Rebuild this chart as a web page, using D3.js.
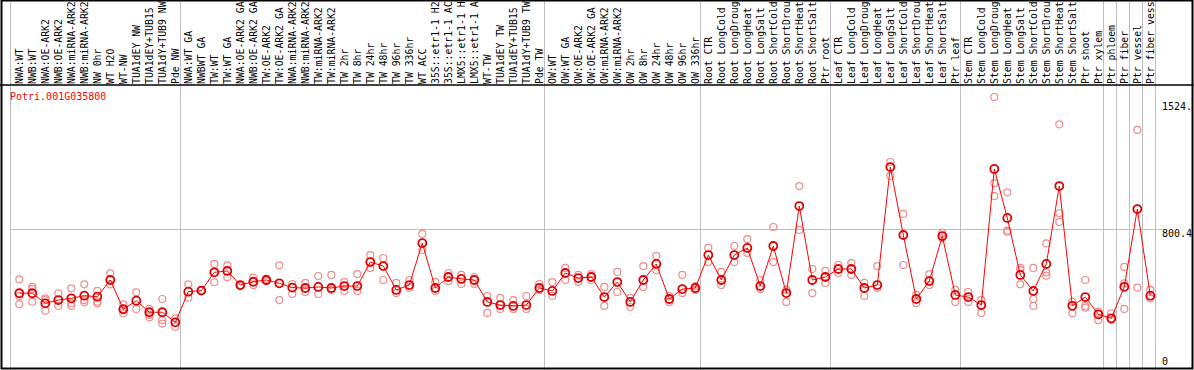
<!DOCTYPE html>
<html>
<head>
<meta charset="utf-8">
<script src="https://cdn.jsdelivr.net/npm/d3@7"></script>
<style>
  body { margin: 0; background: #fff; }
  svg { display: block; }
  text { font-family: "DejaVu Sans Mono", "Liberation Mono", monospace; font-size: 10px; }
  .lbl { font-size: 9.8px; }
</style>
</head>
<body>
<div id="chart"></div>
<script>
    var width = 1194,
        height = 370;

    var geneName = "Potri.001G035800";

    // sample names, as far as they are shown in the header
    var samples = ["NWA:WT", "NWB:WT", "NWA:OE-ARK2", "NWB:OE-ARK2", "NWA:miRNA-ARK2", "NWB:miRNA-ARK2",
        "NW 0hr", "WT H2O", "WT-NW", "TUA1dEY NW", "TUA1dEY+TUB15", "TUA1dY+TUB9 NW", "Pde NW",
        "NWA:WT GA", "NWBWT GA", "TW:WT", "TW:WT GA", "NWA:OE-ARK2 GA", "NWB:OE-ARK2 GA", "TW:OE-ARK2",
        "TW:OE-ARK2 GA", "NWA:miRNA-ARK2", "NWB:miRNA-ARK2", "TW:miRNA-ARK2", "TW:miRNA-ARK2",
        "TW 2hr", "TW 8hr", "TW 24hr", "TW 48hr", "TW 96hr", "TW 336hr", "WT ACC",
        "35S::etr1-1 H2", "35S::etr1-1 AC", "LMX5::etr1-1 H", "LMX5::etr1-1 A", "WT-TW",
        "TUA1dEY TW", "TUA1dEY+TUB15", "TUA1dY+TUB9 TW", "Pde TW",
        "OW:WT", "OW:WT GA", "OW:OE-ARK2", "OW:OE-ARK2 GA", "OW:miRNA-ARK2", "OW:miRNA-ARK2",
        "OW 2hr", "OW 8hr", "OW 24hr", "OW 48hr", "OW 96hr", "OW 336hr",
        "Root CTR", "Root LongCold", "Root LongDroug", "Root LongHeat", "Root LongSalt",
        "Root ShortCold", "Root ShortDrou", "Root ShortHeat", "Root ShortSalt", "Ptr root",
        "Leaf CTR", "Leaf LongCold", "Leaf LongDroug", "Leaf LongHeat", "Leaf LongSalt",
        "Leaf ShortCold", "Leaf ShortDrou", "Leaf ShortHeat", "Leaf ShortSalt", "Ptr leaf",
        "Stem CTR", "Stem LongCold", "Stem LongDroug", "Stem LongHeat", "Stem LongSalt",
        "Stem ShortCold", "Stem ShortDrou", "Stem ShortHeat", "Stem ShortSalt", "Ptr shoot",
        "Ptr xylem", "Ptr phloem", "Ptr fiber", "Ptr vessel", "Ptr fiber vess"];

    // mean expression per sample
    var means = [429, 429, 371, 390, 400, 415, 409, 505, 337, 386, 320, 320, 262,
        438, 444, 549, 557, 476, 495, 505, 486, 461, 459, 465, 459,
        470, 470, 608, 585, 448, 476, 717, 459, 522, 511, 505, 379,
        361, 356, 361, 459,
        442, 545, 516, 522, 407, 493, 379, 505, 597, 396, 453, 459,
        648, 505, 648, 689, 470, 700, 430, 929, 505, 522,
        568, 568, 459, 476, 1153, 763, 396, 499, 757, 419,
        407, 361, 1142, 861, 534, 442, 597, 1044, 357, 407,
        308, 285, 466, 912, 415];

    // individual replicates per sample
    var replicates = [
        [509, 413, 367], [466, 453, 380], [400, 390, 329], [429, 356], [457, 371, 357],
        [480, 390, 377], [442, 380, 371], [543, 480], [365, 339, 314], [434, 339],
        [339, 304, 291], [396, 275, 255], [285, 237],
        [480, 403], [444, 447], [597, 492], [589, 520], [476, 470], [518, 476], [511, 499],
        [589, 390], [482, 425], [488, 436], [528, 425], [534, 448],
        [493, 442], [539, 442], [648, 574], [631, 505], [488, 430], [505, 459], [769, 677],
        [493, 442], [545, 499], [534, 482], [522, 482], [413, 316],
        [402, 339], [390, 339], [413, 339], [482, 448],
        [493, 413], [574, 505], [534, 493], [539, 505], [465, 356], [551, 436],
        [402, 350], [585, 465], [643, 562], [413, 379], [534, 430], [470, 448],
        [689, 608], [551, 476], [700, 608], [740, 660], [505, 453],
        [809, 608], [448, 379], [1044, 792], [568, 430], [557, 488],
        [591, 545], [602, 534], [488, 413], [585, 459], [1182, 1102],
        [884, 591], [419, 373], [539, 476], [775, 746], [448, 379],
        [436, 379], [390, 316], [1555, 1061, 987], [1008, 782, 788], [575, 562, 480],
        [574, 396, 357], [715, 549, 530], [1398, 888, 838], [380, 314], [505, 356, 346],
        [323, 275], [314, 275], [580, 486, 339], [1366, 461], [448, 400]];

    // last sample index of each group
    var groupEnds = [13, 41, 53, 63, 73, 84, 85, 86, 87, 88];

    var yTicks = [0, 800.4, 1524];
    var yTickLabels = ["0", "800.4", "1524."];

    var svg = d3.select("#chart")
        .append("svg")
        .attr("width", width)
        .attr("height", height);

    var x = d3.scaleBand()
        .domain(d3.range(samples.length))
        .range([11, 1155]);

    var y = d3.scaleLinear()
        .domain([0, 1600.8])
        .range([368, 89]);

    var px = function(i) { return x(i) + 8.3 };

    // grid lines
    svg.append("line")
        .attr("x1", 10.5).attr("x2", 10.5)
        .attr("y1", 0).attr("y2", height)
        .attr("stroke", "#c0c0c0");

    svg.selectAll(".sep")
        .data(groupEnds)
        .enter().append("line")
        .attr("class", "sep")
        .attr("x1", function(d) { return Math.round(x(d - 1) + x.bandwidth()) + 0.5 })
        .attr("x2", function(d) { return Math.round(x(d - 1) + x.bandwidth()) + 0.5 })
        .attr("y1", 0).attr("y2", height)
        .attr("stroke", "#c0c0c0");

    svg.append("line")
        .attr("x1", 10).attr("x2", 1163)
        .attr("y1", Math.round(y(800.4)) + 0.5).attr("y2", Math.round(y(800.4)) + 0.5)
        .attr("stroke", "#c0c0c0");

    // sample labels
    svg.selectAll(".lbl")
        .data(samples)
        .enter().append("text")
        .attr("class", "lbl")
        .attr("transform", function(d, i) { return "translate(" + (px(i) + 4) + ",84) rotate(-90)" })
        .text(function(d) { return d });

    // header / border lines
    svg.append("line")
        .attr("x1", 0).attr("x2", width)
        .attr("y1", 85).attr("y2", 85)
        .attr("stroke", "#000").attr("stroke-width", 1.5);

    svg.append("rect")
        .attr("x", 1.5).attr("y", 0.5)
        .attr("width", 1191).attr("height", 368)
        .attr("fill", "none")
        .attr("stroke", "#000").attr("stroke-width", 2);

    svg.append("text")
        .attr("x", 10).attr("y", 100)
        .attr("fill", "#ff0000")
        .text(geneName);

    // right axis labels
    svg.selectAll(".ytick")
        .data(yTicks)
        .enter().append("text")
        .attr("class", "ytick")
        .attr("x", 1162)
        .attr("y", function(d) { return d === 0 ? 365 : y(d) + 8 })
        .text(function(d, i) { return yTickLabels[i] });

    // replicates
    var reps = [];
    replicates.forEach(function(r, i) {
        r.forEach(function(v) { reps.push({ i: i, v: v }) })
    });

    svg.selectAll(".rep")
        .data(reps)
        .enter().append("circle")
        .attr("class", "rep")
        .attr("cx", function(d) { return px(d.i) })
        .attr("cy", function(d) { return y(d.v) })
        .attr("r", 3.5)
        .attr("fill", "none")
        .attr("stroke", "#f08c8c")
        .attr("stroke-width", 1.2);

    var line = d3.line()
        .x(function(d, i) { return px(i) })
        .y(function(d) { return y(d) });

    svg.append("path")
        .datum(means)
        .attr("d", line)
        .attr("fill", "none")
        .attr("stroke", "#ff0000")
        .attr("stroke-width", 1);

    svg.selectAll(".mean")
        .data(means)
        .enter().append("circle")
        .attr("class", "mean")
        .attr("cx", function(d, i) { return px(i) })
        .attr("cy", function(d) { return y(d) })
        .attr("r", 4)
        .attr("fill", "none")
        .attr("stroke", "#e00000")
        .attr("stroke-width", 1.8);
</script>
</body>
</html>
